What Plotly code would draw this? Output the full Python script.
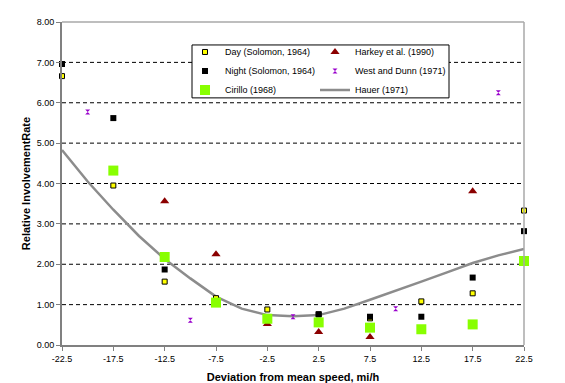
import plotly.graph_objects as go

# ---- data ----
day_x = [-22.5, -17.5, -12.5, -7.5, -2.5, 2.5, 7.5, 12.5, 17.5, 22.5]
day_y = [6.66, 3.95, 1.57, 1.16, 0.88, 0.76, 0.66, 1.08, 1.28, 3.33]

night_x = [-22.5, -17.5, -12.5, -7.5, -2.5, 2.5, 7.5, 12.5, 17.5, 22.5]
night_y = [6.96, 5.62, 1.87, 1.05, 0.65, 0.76, 0.70, 0.70, 1.67, 2.82]

cirillo_x = [-17.5, -12.5, -7.5, -2.5, 2.5, 7.5, 12.5, 17.5, 22.5]
cirillo_y = [4.32, 2.18, 1.05, 0.65, 0.56, 0.43, 0.39, 0.51, 2.08]

harkey_x = [-12.5, -7.5, -2.5, 2.5, 7.5, 17.5]
harkey_y = [3.56, 2.25, 0.52, 0.32, 0.20, 3.81]

west_x = [-20, -10, 0, 10, 20]
west_y = [5.77, 0.61, 0.70, 0.90, 6.25]

hauer_x = [-22.5, -20, -17.5, -15, -12.5, -10, -7.5, -5, -2.5, 0, 2.5, 5, 7.5, 10, 12.5, 15, 17.5, 20, 22.5]
hauer_y = [4.83, 4.05, 3.35, 2.70, 2.13, 1.65, 1.20, 0.90, 0.74, 0.71, 0.74, 0.90, 1.12, 1.34, 1.57, 1.80, 2.03, 2.22, 2.38]

x_ticks = [-22.5, -17.5, -12.5, -7.5, -2.5, 2.5, 7.5, 12.5, 17.5, 22.5]
y_ticks = [0, 1, 2, 3, 4, 5, 6, 7, 8]

FONT = "Liberation Sans, Arial, sans-serif"

fig = go.Figure()

fig.add_trace(go.Scatter(
    x=hauer_x, y=hauer_y, mode="lines", name="Hauer (1971)",
    line=dict(color="#8c8c8c", width=2.5), legend="legend2", legendrank=3))
fig.add_trace(go.Scatter(
    x=day_x, y=day_y, mode="markers", name="Day (Solomon, 1964)",
    marker=dict(symbol="square", size=5, color="#ffff00", line=dict(color="black", width=1)),
    legend="legend", legendrank=1))
fig.add_trace(go.Scatter(
    x=night_x, y=night_y, mode="markers", name="Night (Solomon, 1964)",
    marker=dict(symbol="square", size=6, color="black"),
    legend="legend", legendrank=2))
fig.add_trace(go.Scatter(
    x=harkey_x, y=harkey_y, mode="markers", name="Harkey et al. (1990)",
    marker=dict(symbol="triangle-up", size=8, color="#8b0000"),
    legend="legend2", legendrank=1))
fig.add_trace(go.Scatter(
    x=west_x, y=west_y, mode="markers", name="West and Dunn (1971)",
    marker=dict(symbol="hourglass", size=5, color="#9900cc"),
    legend="legend2", legendrank=2))
fig.add_trace(go.Scatter(
    x=cirillo_x, y=cirillo_y, mode="markers", name="Cirillo (1968)",
    marker=dict(symbol="square", size=10, color="#88ff00"),
    legend="legend", legendrank=3))

for tr in fig.data:
    tr.cliponaxis = False

# page has an 8px body margin: window coords = figure coords + 8
OFF = 8
L, R, T, B = 62, 524, 22, 345.5      # plot area in window pixels
W, H = 565, 383


def px_x(p):
    return (p - L) / (R - L)


def px_y(p):
    return (B - p) / (B - T)


legend_common = dict(bgcolor="rgba(0,0,0,0)", borderwidth=0,
                     font=dict(family=FONT, size=9, color="black"),
                     xanchor="left", yanchor="top", tracegroupgap=0,
                     itemwidth=30)

fig.update_layout(
    width=W, height=H,
    margin=dict(l=L - OFF, r=W - (R - OFF), t=T - OFF, b=H - (B - OFF), autoexpand=False),
    paper_bgcolor="white", plot_bgcolor="white",
    font=dict(family=FONT, size=9, color="black"),
    showlegend=True,
    legend=dict(x=px_x(185), y=px_y(37.5), **legend_common),
    legend2=dict(x=px_x(315), y=px_y(37.5), **legend_common),
    xaxis=dict(
        range=[-22.5, 22.5], tickvals=x_ticks, ticktext=[f"{v:.1f}" for v in x_ticks],
        showgrid=False, zeroline=False, showline=True, linecolor="#808080", linewidth=2,
        mirror=False, ticks="outside", ticklen=4, tickcolor="#808080", tickwidth=1,
        tickfont=dict(family=FONT, size=9, color="black"), automargin=False,
        title=dict(text="<b>Deviation from mean speed, mi/h</b>",
                   font=dict(family=FONT, size=11, color="black"), standoff=11),
    ),
    yaxis=dict(
        range=[0, 8], tickvals=y_ticks, ticktext=[f"{v:.2f}" for v in y_ticks],
        showgrid=False, zeroline=False, showline=True, linecolor="#808080", linewidth=2,
        ticks="outside", ticklen=4, tickcolor="#808080", tickwidth=1,
        tickfont=dict(family=FONT, size=9, color="black"), automargin=False,
        title=dict(text="<b>Relative InvolvementRate</b>",
                   font=dict(family=FONT, size=11, color="black"), standoff=4),
    ),
)

shapes = []
# dashed gridlines at 1..7
for v in y_ticks[1:-1]:
    shapes.append(dict(type="line", xref="paper", yref="y", x0=0, x1=1, y0=v, y1=v,
                       line=dict(color="black", width=1, dash="4px,3px"), layer="below"))
# top and right light-gray border
shapes.append(dict(type="line", xref="paper", yref="paper", x0=0, x1=1, y0=1, y1=1,
                   line=dict(color="#a8a8a8", width=1.5)))
shapes.append(dict(type="line", xref="paper", yref="paper", x0=1, x1=1, y0=0, y1=1,
                   line=dict(color="#a8a8a8", width=1.5)))
# legend box
shapes.append(dict(type="rect", xref="paper", yref="paper",
                   x0=px_x(192), x1=px_x(449), y0=px_y(98), y1=px_y(45),
                   line=dict(color="black", width=1), fillcolor="white", layer="below"))
fig.update_layout(shapes=shapes)

fig.write_html("out.html")
